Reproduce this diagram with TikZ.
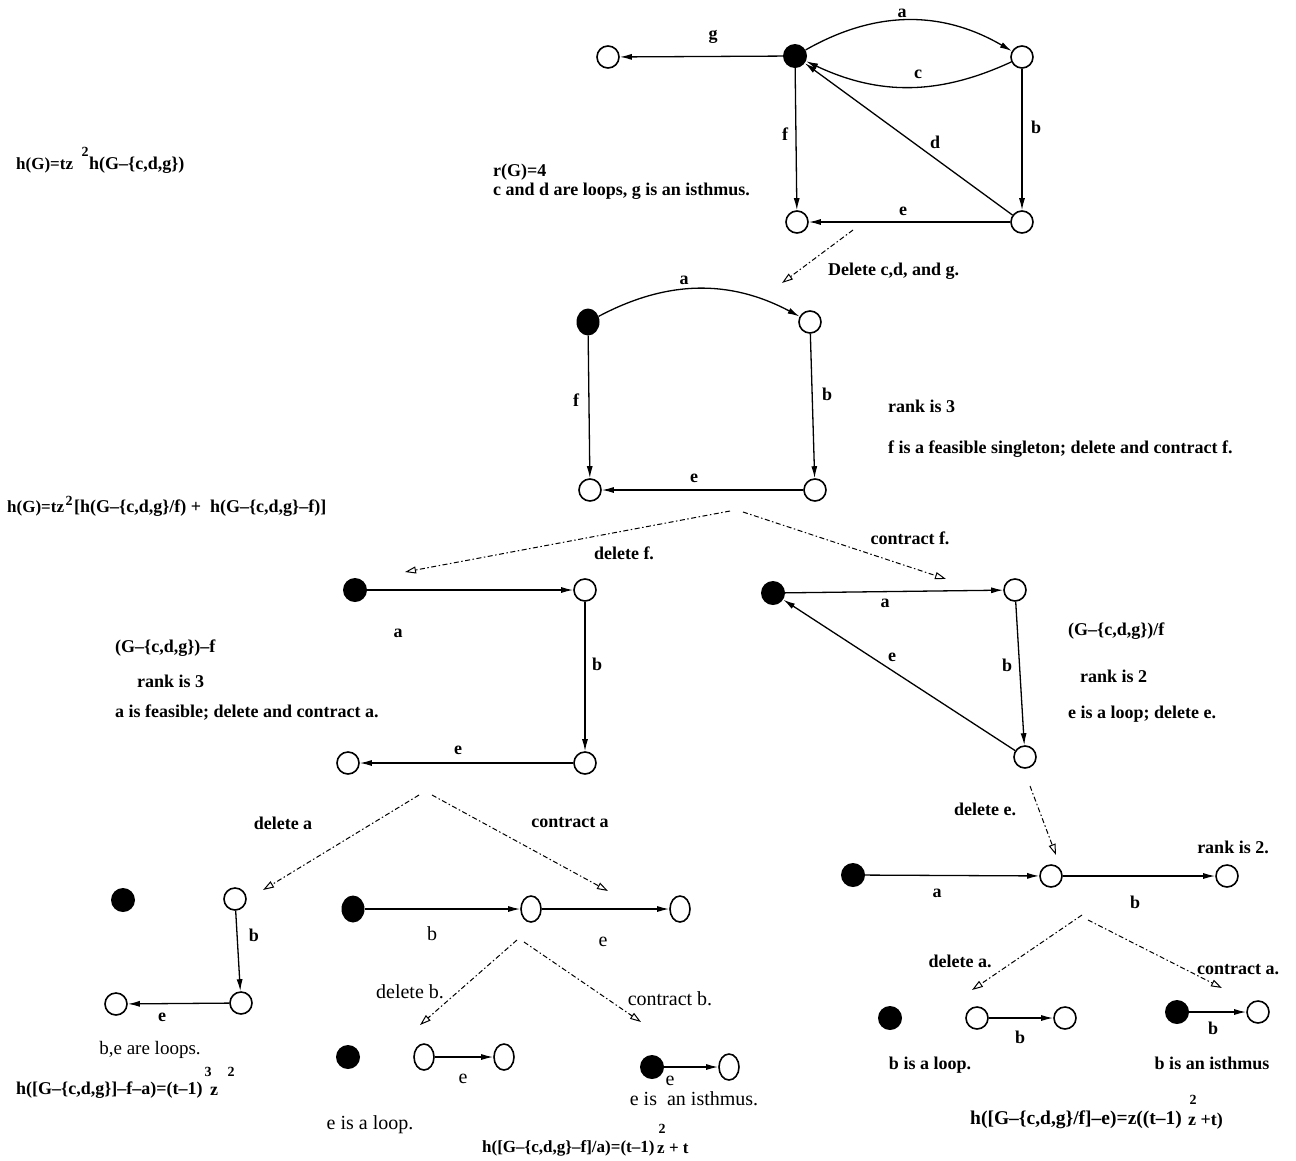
\documentclass[tikz,border=0pt]{standalone}
\usepackage{fontspec}
\setmainfont{Liberation Serif}
\usetikzlibrary{arrows.meta,shapes.geometric}
\begin{document}
\begin{tikzpicture}[x=1pt,y=-1pt,
 vo/.style={circle,draw,line width=1.6pt,minimum size=22pt,inner sep=0pt},
 ve/.style={ellipse,draw,line width=1.6pt,minimum width=20pt,minimum height=26pt,inner sep=0pt},
 vf/.style={circle,fill=black,minimum size=24pt,inner sep=0pt},
 vfe/.style={ellipse,fill=black,minimum width=23pt,minimum height=27pt,inner sep=0pt},
 ed/.style={line width=1.3pt,-{Latex[length=12pt,width=6pt]}},
 dd/.style={line width=1pt,dash pattern=on 5pt off 2.5pt on 1.5pt off 2.5pt,-{Triangle[open,length=11pt,width=7pt]}},
 lb/.style={font=\fontsize{18}{20}\selectfont\bfseries,inner sep=0pt},
 tx/.style={lb,anchor=west},
 rg/.style={font=\fontsize{20}{22}\selectfont,inner sep=0pt},
 rl/.style={font=\fontsize{19}{21}\selectfont,inner sep=0pt},
 fm/.style={font=\fontsize{18}{20}\selectfont\bfseries,inner sep=0pt,anchor=west},
 sp/.style={font=\fontsize{14}{15}\selectfont\bfseries,inner sep=0pt}
]
\fill[white] (0,0) rectangle (1296,1160);
\useasboundingbox (0,0) rectangle (1296,1160);

% ---------- top graph ----------
\node[vo] (A1) at (608,57) {};
\node[vf] (A0) at (795,56) {};
\node[vo] (A2) at (1022,57) {};
\node[vo] (A3) at (797,222) {};
\node[vo] (A4) at (1022,222) {};
\draw[ed] (A0) -- (A1);
\draw[ed] (A0) to[bend left=30] (A2);
\draw[ed] (A2) to[bend left=25] (A0);
\draw[ed] (A0) -- (A3);
\draw[ed] (A2) -- (A4);
\draw[ed] (A4) -- (A0);
\draw[ed] (A4) -- (A3);
\node[lb] (Lg) at (713,37) {g};
\node[lb] (La) at (902,13) {a};
\node[lb] (Lc) at (918,74) {c};
\node[lb] (Lf) at (785,134) {f};
\node[lb] (Lb) at (1036,127) {b};
\node[lb] (Ld) at (935,142) {d};
\node[lb] (Le) at (903,211) {e};
\coordinate (D1s) at (853,230);
\coordinate (D1e) at (782,283);
\draw[dd] (D1s) -- (D1e);
\node[tx] (T1) at (828,271) {Delete c,d, and g.};
\node[tx] (T2) at (493,172) {r(G)=4};
\node[tx] (T3) at (493,191) {c and d are loops, g is an isthmus.};
\node[fm,font=\fontsize{17}{19}\selectfont\bfseries] (F1a) at (16,165) {h(G)=tz};
\node[sp] (F1b) at (85,152) {2};
\node[fm] (F1c) at (89,165) {h(G--\{c,d,g\})};

% ---------- second graph ----------
\node[vfe] (B0) at (588,322) {};
\node[vo] (B1) at (810,322) {};
\node[vo] (B2) at (590,490) {};
\node[vo] (B3) at (815,490) {};
\draw[ed] (B0) to[bend left=28] (B1);
\draw[ed] (B0) -- (B2);
\draw[ed] (B1) -- (B3);
\draw[ed] (B3) -- (B2);
\node[lb] (Ma) at (684,280) {a};
\node[lb] (Mf) at (576,400) {f};
\node[lb] (Mb) at (827,394) {b};
\node[lb] (Me) at (694,478) {e};
\node[tx] (T4) at (888,406) {rank is 3};
\node[tx] (T5) at (888,449) {f is a feasible singleton; delete and contract f.};
\node[fm,font=\fontsize{17}{19}\selectfont\bfseries] (F2a) at (7,508) {h(G)=tz};
\node[sp] (F2b) at (69,501) {2};
\node[fm] (F2c) at (74,508) {[h(G--\{c,d,g\}/f) + \ h(G--\{c,d,g\}--f)]};
\coordinate (D2s) at (730,511);
\coordinate (D2t) at (743,512);
\coordinate (D2l) at (405,572);
\coordinate (D2r) at (946,579);
\draw[dd] (D2s) -- (D2l);
\draw[dd] (D2t) -- (D2r);
\node[lb] (T6) at (624,553) {delete f.};
\node[lb] (T7) at (910,538) {contract f.};

% ---------- level 3 left ----------
\node[vf] (C0) at (355,590) {};
\node[vo] (C1) at (585,590) {};
\node[vo] (C2) at (585,763) {};
\node[vo] (C3) at (348,763) {};
\draw[ed] (C0) -- (C1);
\draw[ed] (C1) -- (C2);
\draw[ed] (C2) -- (C3);
\node[lb] (Na) at (398,633) {a};
\node[lb] (Nb) at (597,664) {b};
\node[lb] (Ne) at (458,750) {e};
\node[tx] (T8) at (115,648) {(G--\{c,d,g\})--f};
\node[tx] (T9) at (137,681) {rank is 3};
\node[tx] (T10) at (115,713) {a is feasible; delete and contract a.};

% ---------- level 3 right ----------
\node[vf] (E0) at (773,593) {};
\node[vo] (E1) at (1015,590) {};
\node[vo] (E2) at (1025,757) {};
\draw[ed] (E0) -- (E1);
\draw[ed] (E1) -- (E2);
\draw[ed] (E2) -- (E0);
\node[lb] (Oa) at (885,603) {a};
\node[lb] (Ob) at (1007,665) {b};
\node[lb] (Oe) at (892,657) {e};
\node[tx] (T11) at (1068,631) {(G--\{c,d,g\})/f};
\node[tx] (T12) at (1080,676) {rank is 2};
\node[tx] (T13) at (1068,714) {e is a loop; delete e.};
\coordinate (D3s) at (1030,786);
\coordinate (D3e) at (1056,855);
\draw[dd] (D3s) -- (D3e);
\node[lb] (T14) at (985,809) {delete e.};

% ---------- level 4 left ----------
\coordinate (D4s) at (419,795);
\coordinate (D4t) at (432,795);
\coordinate (D4l) at (263,890);
\coordinate (D4r) at (608,891);
\draw[dd] (D4s) -- (D4l);
\draw[dd] (D4t) -- (D4r);
\node[lb] (T15) at (283,823) {delete a};
\node[lb] (T16) at (570,823) {contract a};

\node[vf] (P0) at (123,900) {};
\node[vo] (P1) at (235,899) {};
\node[vo] (P2) at (241,1003) {};
\node[vo] (P3) at (116,1004) {};
\draw[ed] (P1) -- (P2);
\draw[ed] (P2) -- (P3);
\node[lb] (Pb) at (254,935) {b};
\node[lb] (Pe) at (162,1017) {e};
\node[rl] (T17) at (150,1050) {b,e are loops.};
\node[fm] (F3a) at (16,1090) {h([G--\{c,d,g\}]--f--a)=(t--1)};
\node[fm] (F3b) at (210,1091) {z};
\node[sp] (F3c) at (208,1072) {3};
\node[sp] (F3d) at (231,1072) {2};

\node[vfe] (Q0) at (353,909) {};
\node[ve] (Q1) at (531,909) {};
\node[ve] (Q2) at (680,909) {};
\draw[ed] (Q0) -- (Q1);
\draw[ed] (Q1) -- (Q2);
\node[rg] (Qb) at (432,934) {b};
\node[rg] (Qe) at (603,942) {e};
\coordinate (D5s) at (517,940);
\coordinate (D5t) at (524,942);
\coordinate (D5l) at (420,1025);
\coordinate (D5r) at (641,1022);
\draw[dd] (D5s) -- (D5l);
\draw[dd] (D5t) -- (D5r);
\node[rg] (T18) at (410,992) {delete b.};
\node[rg] (T19) at (670,999) {contract b.};

\node[vf] (R0) at (348,1057) {};
\node[ve] (R1) at (424,1057) {};
\node[ve] (R2) at (504,1057) {};
\draw[ed] (R1) -- (R2);
\node[rg] (Re) at (463,1079) {e};
\node[rg] (T20) at (370,1125) {e is a loop.};

\node[vf] (S0) at (652,1067) {};
\node[ve] (S1) at (729,1067) {};
\draw[ed] (S0) -- (S1);
\node[rg] (Se) at (670,1081) {e};
\node[rg] (T21) at (694,1099) {e is \ an isthmus.};
\node[fm,font=\fontsize{17}{19}\selectfont\bfseries] (F4a) at (482,1148) {h([G--\{c,d,g\}--f]/a)=(t--1)};
\node[fm,font=\fontsize{17}{19}\selectfont\bfseries] (F4b) at (657,1149) {z + t};
\node[sp] (F4c) at (662,1129) {2};

% ---------- level 4 right ----------
\node[vf] (K0) at (853,875) {};
\node[vo] (K1) at (1051,876) {};
\node[vo] (K2) at (1227,876) {};
\draw[ed] (K0) -- (K1);
\draw[ed] (K1) -- (K2);
\node[lb] (Ka) at (937,893) {a};
\node[lb] (Kb) at (1135,902) {b};
\node[lb] (T22) at (1233,847) {rank is 2.};
\coordinate (D6s) at (1082,915);
\coordinate (D6t) at (1088,920);
\coordinate (D6l) at (972,990);
\coordinate (D6r) at (1222,988);
\draw[dd] (D6s) -- (D6l);
\draw[dd] (D6t) -- (D6r);
\node[lb] (T23) at (960,961) {delete a.};
\node[lb] (T24) at (1238,970) {contract a.};

\node[vf] (U0) at (890,1018) {};
\node[vo] (U1) at (977,1018) {};
\node[vo] (U2) at (1065,1018) {};
\draw[ed] (U1) -- (U2);
\node[lb] (Ub) at (1020,1037) {b};
\node[lb] (T25) at (930,1065) {b is a loop.};

\node[vf] (W0) at (1177,1012) {};
\node[vo] (W1) at (1258,1012) {};
\draw[ed] (W0) -- (W1);
\node[lb] (Wb) at (1213,1028) {b};
\node[lb] (T26) at (1212,1063) {b is an isthmus};
\node[fm,font=\fontsize{19.5}{21}\selectfont\bfseries] (F5a) at (970,1120) {h([G--\{c,d,g\}/f]--e)=z((t--1)};
\node[fm] (F5b) at (1188,1121) {z +t)};
\node[sp] (F5c) at (1193,1100) {2};
\end{tikzpicture}
\end{document}
